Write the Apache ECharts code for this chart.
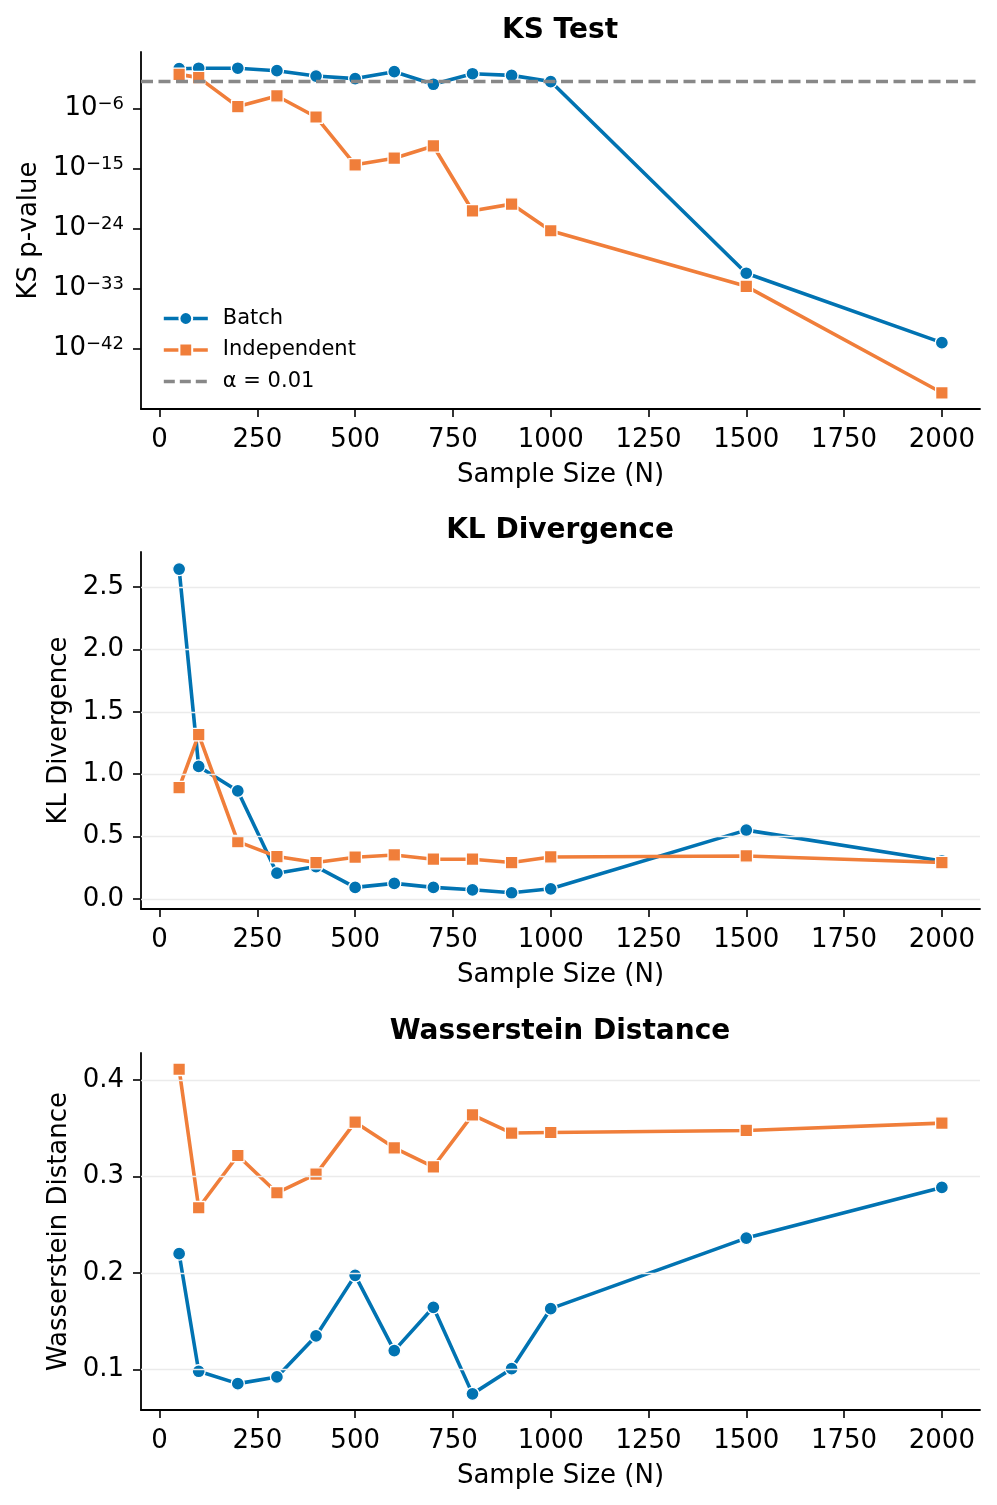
<!DOCTYPE html>
<html>
<head>
<meta charset="utf-8">
<script src="https://cdn.jsdelivr.net/npm/echarts@6/dist/echarts.min.js"></script>
<style>
html,body{margin:0;padding:0;background:#fff;}
#chart{width:997px;height:1505px;}
</style>
</head>
<body>
<div id="chart"></div>
<script>
// ---------- data ----------
const sampleSizes = [50, 100, 200, 300, 400, 500, 600, 700, 800, 900, 1000, 1500, 2000];

const ksBatch = [0.85, 1.0, 1.0, 0.43, 0.067, 0.028, 0.3, 0.004, 0.15, 0.085, 0.01, 2e-31, 8e-42];
const ksIndependent = [0.12, 0.039, 1.8e-6, 7e-5, 5e-8, 3.4e-15, 3.4e-14, 2.3e-12, 4.5e-22, 4.5e-21, 4.6e-25, 2.2e-33, 2.5e-49];
const alpha = 0.01;

const klBatch = [2.643, 1.062, 0.866, 0.207, 0.26, 0.093, 0.125, 0.093, 0.074, 0.05, 0.082, 0.552, 0.305];
const klIndependent = [0.892, 1.317, 0.46, 0.34, 0.292, 0.335, 0.353, 0.319, 0.319, 0.292, 0.337, 0.345, 0.292];

const wdBatch = [0.22, 0.0983, 0.0855, 0.0924, 0.1349, 0.1976, 0.1197, 0.1645, 0.0749, 0.101, 0.1631, 0.2362, 0.2886];
const wdIndependent = [0.411, 0.2676, 0.3217, 0.2831, 0.3024, 0.3562, 0.3296, 0.31, 0.3638, 0.3449, 0.3455, 0.3476, 0.3552];

const xTicks = [0, 250, 500, 750, 1000, 1250, 1500, 1750, 2000];
const ksTicks = [1e-42, 1e-33, 1e-24, 1e-15, 1e-6];
const klTicks = [0, 0.5, 1.0, 1.5, 2.0, 2.5];
const wdTicks = [0.1, 0.2, 0.3, 0.4];

const titles = ['KS Test', 'KL Divergence', 'Wasserstein Distance'];
const yNames = ['KS p-value', 'KL Divergence', 'Wasserstein Distance'];
const xName = 'Sample Size (N)';
const seriesNames = ['Batch', 'Independent', 'α = 0.01'];

// ---------- styling ----------
const FONT = 'DejaVu Sans';
const BLUE = '#0173B2';
const ORANGE = '#F07E3A';
const GREY = '#888888';
const GRIDC = '#ebebeb';
const TICK_FS = 26;
const LW = 3.6;

const gridTops = [52, 552, 1053];
const gridH = 357;

function pairs(xs, ys) { return xs.map((x, i) => [x, ys[i]]); }

function xAxis(i) {
  return {
    type: 'value', gridIndex: i, min: -47.5, max: 2097.5,
    name: xName, nameLocation: 'middle', nameGap: 53,
    nameTextStyle: { fontFamily: FONT, fontSize: TICK_FS, color: '#000' },
    axisLine: { show: true, onZero: false, lineStyle: { color: '#000', width: 1.8 } },
    axisTick: { show: true, length: 8, inside: false, customValues: xTicks, lineStyle: { color: '#000', width: 1.6 } },
    axisLabel: { customValues: xTicks, margin: 18, fontFamily: FONT, fontSize: TICK_FS, color: '#000', formatter: v => String(v) },
    splitLine: { show: false }
  };
}

function yAxisBase(i, extra) {
  return Object.assign({
    gridIndex: i, nameLocation: 'middle',
    nameTextStyle: { fontFamily: FONT, fontSize: TICK_FS, color: '#000' },
    axisLine: { show: true, onZero: false, lineStyle: { color: '#000', width: 1.8 } },
    splitLine: { show: false }
  }, extra);
}

function lineSeries(name, xi, yi, data, color, symbol, z) {
  return {
    name: name, type: 'line', xAxisIndex: xi, yAxisIndex: yi,
    data: data, symbol: symbol, symbolSize: symbol === 'circle' ? 13 : 12.5,
    showSymbol: true, z: z,
    lineStyle: { color: color, width: LW },
    itemStyle: { color: color, borderColor: '#fff', borderWidth: 1.3 },
    emphasis: { disabled: true }, animation: false
  };
}

function gridLines(xi, yi, ticks) {
  return {
    type: 'line', xAxisIndex: xi, yAxisIndex: yi, data: [], silent: true, z: 0,
    markLine: {
      silent: true, symbol: 'none', animation: false, label: { show: false },
      lineStyle: { color: GRIDC, width: 1.3, type: 'solid' },
      data: ticks.map(t => ({ yAxis: t }))
    }
  };
}

// dashed legend handle for the threshold line
const dashIcon = 'path://M0,0h0.01v0.01h-0.01z M43.99,15.99h0.01v0.01h-0.01z ' +
  'M0,6.3h11v3.4h-11z M16,6.3h11v3.4h-11z M32,6.3h11v3.4h-11z';

const option = {
  animation: false,
  backgroundColor: '#fff',
  title: titles.map((t, i) => ({
    text: t, left: 555, textAlign: 'center', top: gridTops[i] - 40,
    textStyle: { fontFamily: FONT, fontSize: 28, fontWeight: 'bold', color: '#000' }
  })),
  grid: gridTops.map(t => ({ left: 141, right: 17, top: t, height: gridH, containLabel: false })),
  legend: {
    left: 157, top: 303, orient: 'vertical', itemWidth: 44, itemHeight: 16, itemGap: 10.5,
    data: [
      { name: seriesNames[0] },
      { name: seriesNames[1] },
      { name: seriesNames[2], icon: dashIcon, itemStyle: { color: GREY } }
    ],
    lineStyle: { width: LW },
    textStyle: { fontFamily: FONT, fontSize: 21, color: '#000', padding: [0, 0, 0, 10] },
    selectedMode: false
  },
  xAxis: [xAxis(0), xAxis(1), xAxis(2)],
  yAxis: [
    yAxisBase(0, {
      type: 'log', logBase: 10, min: Math.pow(10, -51.03), max: Math.pow(10, 2.43),
      name: yNames[0], nameGap: 99,
      axisTick: { show: true, length: 8, customValues: ksTicks, lineStyle: { color: '#000', width: 1.6 } },
      axisLabel: {
        customValues: ksTicks, margin: 17,
        formatter: v => '{b|10}{s|−' + Math.abs(Math.round(Math.log10(v))) + '}',
        rich: {
          b: { fontFamily: FONT, fontSize: TICK_FS, color: '#000', lineHeight: 26 },
          s: { fontFamily: FONT, fontSize: 18, color: '#000', lineHeight: 18, verticalAlign: 'top' }
        }
      }
    }),
    yAxisBase(1, {
      type: 'value', min: -0.08, max: 2.78,
      name: yNames[1], nameGap: 66,
      axisTick: { show: true, length: 8, customValues: klTicks, lineStyle: { color: '#000', width: 1.6 } },
      axisLabel: { customValues: klTicks, margin: 17, fontFamily: FONT, fontSize: TICK_FS, color: '#000', formatter: v => v.toFixed(1) }
    }),
    yAxisBase(2, {
      type: 'value', min: 0.0582, max: 0.4278,
      name: yNames[2], nameGap: 66,
      axisTick: { show: true, length: 8, customValues: wdTicks, lineStyle: { color: '#000', width: 1.6 } },
      axisLabel: { customValues: wdTicks, margin: 17, fontFamily: FONT, fontSize: TICK_FS, color: '#000', formatter: v => v.toFixed(1) }
    })
  ],
  series: [
    gridLines(0, 0, ksTicks),
    gridLines(1, 1, klTicks),
    gridLines(2, 2, wdTicks),
    lineSeries(seriesNames[0], 0, 0, pairs(sampleSizes, ksBatch), BLUE, 'circle', 3),
    lineSeries(seriesNames[1], 0, 0, pairs(sampleSizes, ksIndependent), ORANGE, 'rect', 4),
    {
      name: seriesNames[2], type: 'line', xAxisIndex: 0, yAxisIndex: 0, data: [], symbol: 'none', z: 2,
      lineStyle: { color: GREY, width: LW, type: [12, 5] },
      itemStyle: { color: GREY },
      markLine: {
        silent: true, symbol: 'none', animation: false, label: { show: false },
        lineStyle: { color: GREY, width: 3.4, type: [12, 5.5] },
        data: [{ yAxis: alpha }]
      }
    },
    lineSeries('Batch', 1, 1, pairs(sampleSizes, klBatch), BLUE, 'circle', 3),
    lineSeries('Independent', 1, 1, pairs(sampleSizes, klIndependent), ORANGE, 'rect', 4),
    lineSeries('Batch', 2, 2, pairs(sampleSizes, wdBatch), BLUE, 'circle', 3),
    lineSeries('Independent', 2, 2, pairs(sampleSizes, wdIndependent), ORANGE, 'rect', 4)
  ]
};

const chart = echarts.init(document.getElementById('chart'), null, { renderer: 'canvas' });
chart.setOption(option);
</script>
</body>
</html>
